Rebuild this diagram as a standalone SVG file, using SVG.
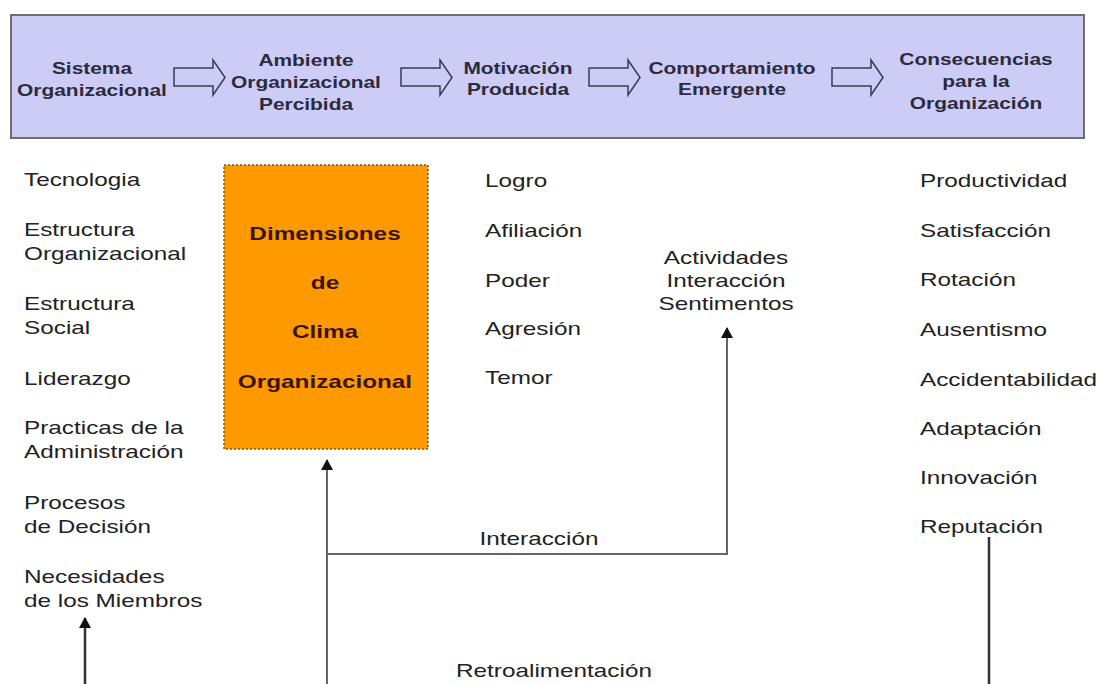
<svg xmlns="http://www.w3.org/2000/svg" width="1099" height="684" viewBox="0 0 1099 684">
<style>
.hdr{font-family:"Liberation Sans",Arial,sans-serif;font-weight:bold;font-size:17px;fill:#2b2b3d;text-anchor:middle}
.lst{font-family:"Liberation Sans",Arial,sans-serif;font-size:19px;fill:#222}
.mid{text-anchor:middle}
.org{font-family:"Liberation Sans",Arial,sans-serif;font-weight:bold;font-size:19px;fill:#3a1400;text-anchor:middle}
.blk{fill:#ccccf6;stroke:#3a3a58;stroke-width:1.5}
.ln{fill:none;stroke:#666;stroke-width:2}
.lnd{fill:none;stroke:#333;stroke-width:2.5}
</style>
<defs>
<marker id="ah" viewBox="0 0 11 12" refX="10" refY="6" markerWidth="11" markerHeight="12" markerUnits="userSpaceOnUse" orient="auto">
<path d="M0,0 L11,6 L0,12 Z" fill="#111"/>
</marker>
</defs>
<rect width="1099" height="684" fill="#fff"/>
<g id="flow">
<rect x="11" y="15" width="1073" height="123" fill="#ccccf6" stroke="#6e6e6e" stroke-width="2"/>
<path class="blk" d="M174,68 H213 V60 L225,77.5 L213,95 V86 H174 Z"/>
<path class="blk" d="M401,68 H440 V60 L452,77.5 L440,95 V86 H401 Z"/>
<path class="blk" d="M589,68 H628 V60 L640,77.5 L628,95 V86 H589 Z"/>
<path class="blk" d="M832,68 H871 V60 L883,77.5 L871,95 V86 H832 Z"/>
<text class="hdr" transform="translate(92,0) scale(1.23,1)"><tspan x="0" y="74">Sistema</tspan><tspan x="0" y="96">Organizacional</tspan></text>
<text class="hdr" transform="translate(306,0) scale(1.23,1)"><tspan x="0" y="66">Ambiente</tspan><tspan x="0" y="88">Organizacional</tspan><tspan x="0" y="110">Percibida</tspan></text>
<text class="hdr" transform="translate(518,0) scale(1.23,1)"><tspan x="0" y="74">Motivación</tspan><tspan x="0" y="95">Producida</tspan></text>
<text class="hdr" transform="translate(732,0) scale(1.23,1)"><tspan x="0" y="74">Comportamiento</tspan><tspan x="0" y="95">Emergente</tspan></text>
<text class="hdr" transform="translate(976,0) scale(1.23,1)"><tspan x="0" y="65">Consecuencias</tspan><tspan x="0" y="87">para la</tspan><tspan x="0" y="109">Organización</tspan></text>
</g>
<g id="sistema">
<text class="lst" transform="translate(24,0) scale(1.28,1)">
<tspan x="0" y="186">Tecnologia</tspan>
<tspan x="0" y="236">Estructura</tspan><tspan x="0" y="260">Organizacional</tspan>
<tspan x="0" y="310">Estructura</tspan><tspan x="0" y="334">Social</tspan>
<tspan x="0" y="385">Liderazgo</tspan>
<tspan x="0" y="434">Practicas de la</tspan><tspan x="0" y="458">Administración</tspan>
<tspan x="0" y="509">Procesos</tspan><tspan x="0" y="533">de Decisión</tspan>
<tspan x="0" y="583">Necesidades</tspan><tspan x="0" y="607">de los Miembros</tspan>
</text>
</g>
<g id="clima">
<rect x="224" y="165" width="204" height="284" fill="#ff9900" stroke="#7a5a12" stroke-width="1.5" stroke-dasharray="2,2"/>
<text class="org" transform="translate(325,0) scale(1.28,1)"><tspan x="0" y="240">Dimensiones</tspan><tspan x="0" y="289">de</tspan><tspan x="0" y="338">Clima</tspan><tspan x="0" y="388">Organizacional</tspan></text>
</g>
<g id="motivacion">
<text class="lst" transform="translate(485,0) scale(1.28,1)">
<tspan x="0" y="187">Logro</tspan>
<tspan x="0" y="237">Afiliación</tspan>
<tspan x="0" y="287">Poder</tspan>
<tspan x="0" y="335">Agresión</tspan>
<tspan x="0" y="384">Temor</tspan>
</text>
</g>
<g id="comportamiento">
<text class="lst mid" transform="translate(726,0) scale(1.28,1)"><tspan x="0" y="264">Actividades</tspan><tspan x="0" y="287">Interacción</tspan><tspan x="0" y="310">Sentimentos</tspan></text>
</g>
<g id="consecuencias">
<text class="lst" transform="translate(920,0) scale(1.28,1)">
<tspan x="0" y="187">Productividad</tspan>
<tspan x="0" y="237">Satisfacción</tspan>
<tspan x="0" y="286">Rotación</tspan>
<tspan x="0" y="336">Ausentismo</tspan>
<tspan x="0" y="386">Accidentabilidad</tspan>
<tspan x="0" y="435">Adaptación</tspan>
<tspan x="0" y="484">Innovación</tspan>
<tspan x="0" y="533">Reputación</tspan>
</text>
</g>
<g id="connectors">
<path class="lnd" d="M85,684 V618" marker-end="url(#ah)"/>
<path class="ln" d="M327,684 V460" marker-end="url(#ah)"/>
<path class="ln" d="M327,554 H727 V328" marker-end="url(#ah)"/>
<path class="lnd" d="M989,537 V684"/>
<text class="lst mid" transform="translate(539,0) scale(1.28,1)" x="0" y="545">Interacción</text>
<text class="lst mid" transform="translate(554,0) scale(1.28,1)" x="0" y="677">Retroalimentación</text>
</g>
</svg>
